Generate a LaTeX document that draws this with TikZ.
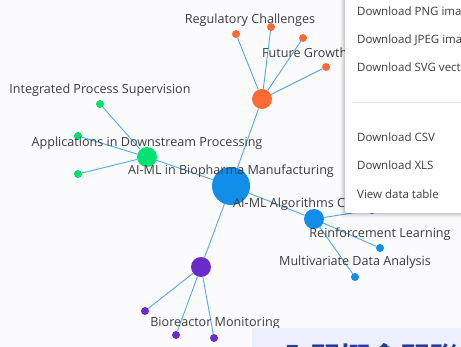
\documentclass[tikz,border=0pt]{standalone}
\usepackage{fontspec}
\setmainfont{Open Sans}
\newfontfamily\cjk{Noto Sans CJK TC}
\usetikzlibrary{positioning}
\pgfdeclarelayer{pagefill}
\pgfdeclarelayer{links}
\pgfsetlayers{pagefill,links,main}

\definecolor{pagebg}{RGB}{251,251,254}
\definecolor{linkblue}{RGB}{80,170,235}
\definecolor{hubblue}{RGB}{16,142,232}
\definecolor{hubgreen}{RGB}{0,226,114}
\definecolor{huborange}{RGB}{254,106,53}
\definecolor{hubpurple}{RGB}{106,44,200}
\definecolor{labelgray}{RGB}{60,60,60}
\definecolor{bandbg}{RGB}{236,239,252}
\definecolor{titlenavy}{RGB}{40,60,150}

\begin{document}
\begin{tikzpicture}[x=1pt,y=-1pt,
    link/.style={draw=linkblue, line width=0.9pt},
    hub/.style={circle, fill=#1, inner sep=0pt, minimum size=20pt},
    leaf/.style={circle, fill=#1, inner sep=0pt, minimum size=8pt},
    lbl/.style={font=\fontsize{12.6}{14}\selectfont, text=labelgray, inner sep=0pt},
    menuitem/.style={font=\fontsize{11.5}{13}\selectfont, text=labelgray, anchor=west, inner sep=0pt}]
    \useasboundingbox (0,0) rectangle (461,347);
    \clip (0,0) rectangle (461,347);
    \begin{pgfonlayer}{pagefill}
        \fill[pagebg] (0,0) rectangle (461,347);
    \end{pgfonlayer}

    % hubs
    \node[hub=hubblue, minimum size=38pt] (core) at (231,186) {};
    \node[hub=huborange] (outlook) at (262,99) {};
    \node[hub=hubgreen] (apps) at (147,157) {};
    \node[hub=hubblue] (algo) at (314,219) {};
    \node[hub=hubpurple] (bio) at (201,267) {};

    % leaves
    \node[leaf=huborange] (reg) at (236,34) {};
    \node[leaf=huborange] (o2) at (271,27) {};
    \node[leaf=huborange] (o3) at (303,38) {};
    \node[leaf=huborange] (future) at (326,67) {};
    \node[leaf=hubgreen] (ips) at (100,104) {};
    \node[leaf=hubgreen] (g2) at (78,136) {};
    \node[leaf=hubgreen] (g3) at (78,174) {};
    \node[leaf=hubblue] (rl) at (380,248) {};
    \node[leaf=hubblue] (mda) at (355,277) {};
    \node[leaf=hubblue] (a3) at (372,210) {};
    \node[leaf=hubpurple] (p1) at (145,311) {};
    \node[leaf=hubpurple] (p2) at (176,335) {};
    \node[leaf=hubpurple] (brm) at (214,338) {};

    \begin{pgfonlayer}{links}
        \foreach \a/\b in {core/outlook, core/apps, core/algo, core/bio,
            outlook/reg, outlook/o2, outlook/o3, outlook/future,
            apps/ips, apps/g2, apps/g3, algo/rl, algo/mda, algo/a3,
            bio/p1, bio/p2, bio/brm}
            \draw[link] (\a) -- (\b);
    \end{pgfonlayer}

    % labels
    \node[lbl] (lreg) at (250,20) {Regulatory Challenges};
    \node[lbl, anchor=west] (lfuture) at (262,53) {Future Growth Trends};
    \node[lbl] (lips) at (100,90) {Integrated Process Supervision};
    \node[lbl] (lapps) at (147,143) {Applications in Downstream Processing};
    \node[lbl] (lcore) at (231,171) {AI-ML in Biopharma Manufacturing};
    \node[lbl, anchor=west] (lalgo) at (233,204) {AI-ML Algorithms Core};
    \node[lbl] (lrl) at (380,234) {Reinforcement Learning};
    \node[lbl] (lmda) at (355,262) {Multivariate Data Analysis};
    \node[lbl] (lbrm) at (215,323) {Bioreactor Monitoring};

    % export menu
    \foreach \s/\o in {5/0.025,4/0.03,3/0.04,2/0.05,1/0.06}
        \fill[black, opacity=\o, rounded corners=3pt] (345-\s,-10) rectangle (475,213+\s);
    \fill[white, rounded corners=3pt] (345,-10) rectangle (475,213);
    \node[menuitem] (png) at (357,13) {Download PNG image};
    \node[menuitem] (jpeg) at (357,41) {Download JPEG image};
    \node[menuitem] (svg) at (357,69) {Download SVG vector image};
    \draw[black!12] (352,102) -- (475,102);
    \node[menuitem] (csv) at (357,137) {Download CSV};
    \node[menuitem] (xls) at (357,165) {Download XLS};
    \node[menuitem] (table) at (357,194) {View data table};

    % title band below
    \fill[bandbg] (252,328) rectangle (475,360);
    \node[font=\cjk\bfseries\fontsize{30}{32}\selectfont, text=titlenavy, anchor=base west, inner sep=0pt] (title) at (280,370) {入門概念關聯};
\end{tikzpicture}
\end{document}
